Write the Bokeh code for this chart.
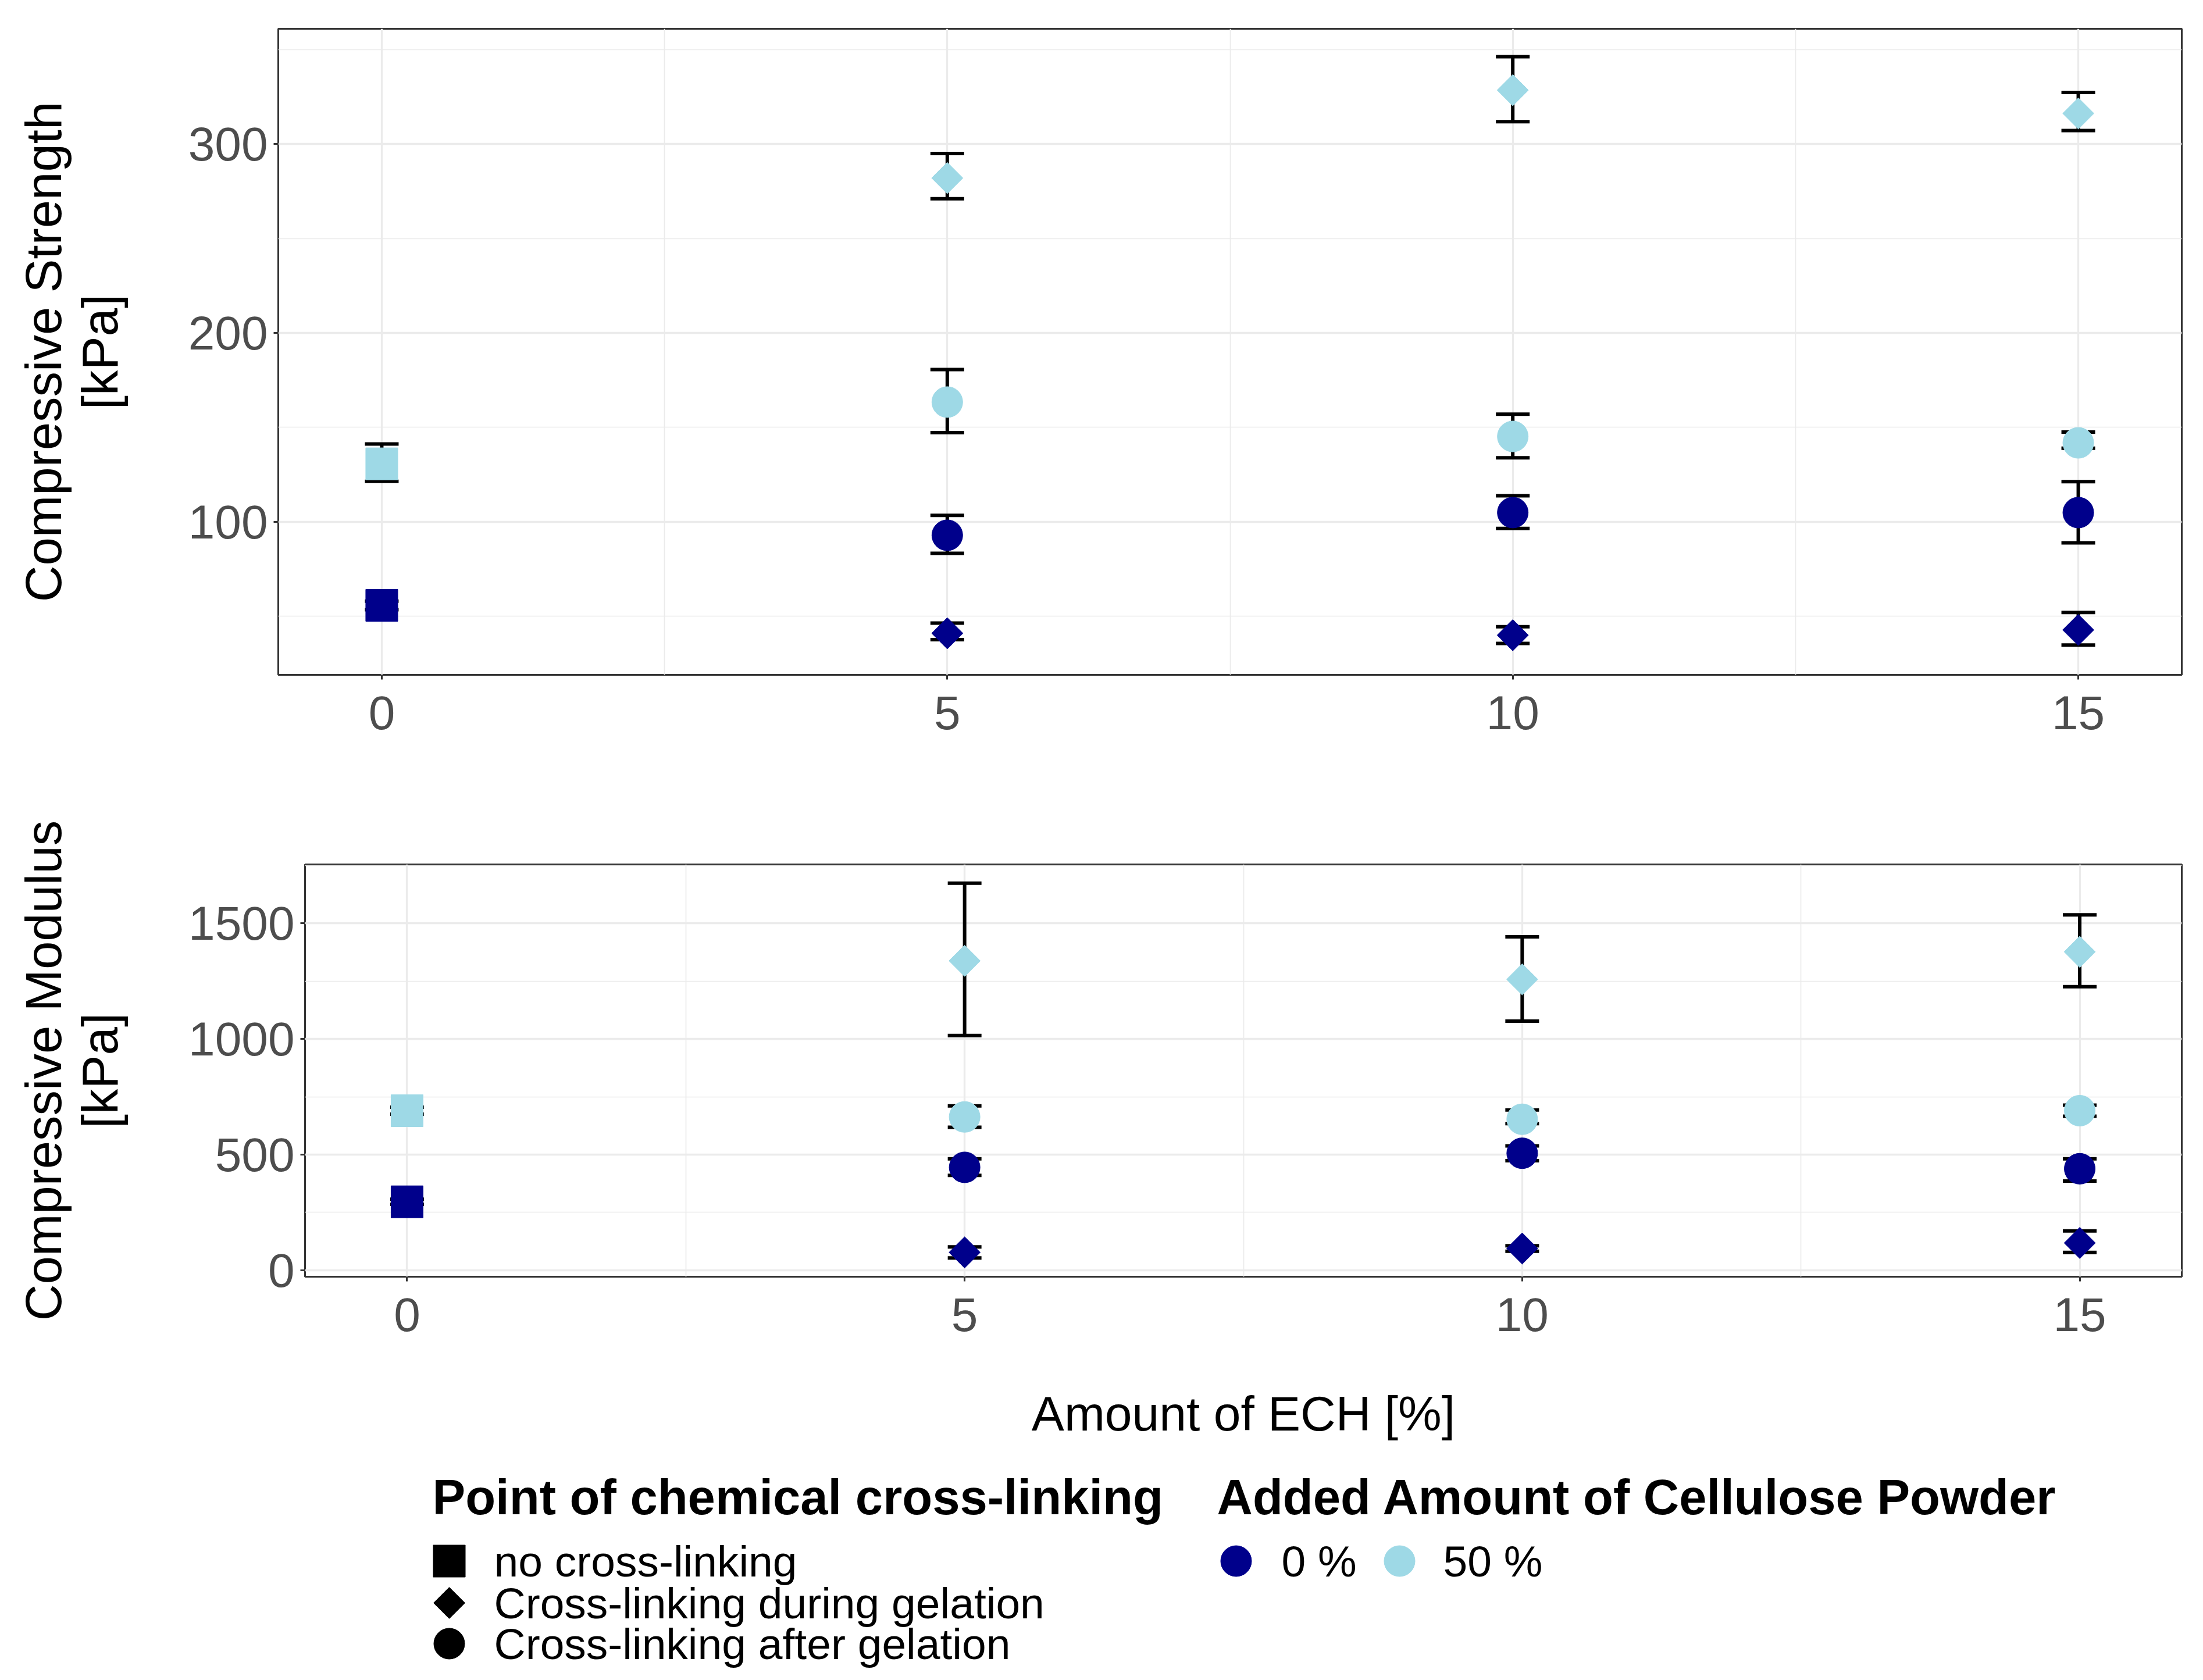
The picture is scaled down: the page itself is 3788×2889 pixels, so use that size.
import numpy as np
from bokeh.plotting import figure
from bokeh.models import Range1d, FixedTicker
from bokeh.core.properties import value
from bokeh.embed import file_html
from bokeh.resources import INLINE

FONT = "Liberation Sans"
NAVY = "#00008B"
LIGHT = "#9ED9E6"

# ---------------- data ----------------
ech_ticks = [0, 5, 10, 15]
ech_none = [0]
ech_xl = [5, 10, 15]

# Compressive strength [kPa]
cs_none_0 = [55.8];  cs_none_0_lo = [53.5];  cs_none_0_hi = [58.0]
cs_none_50 = [130.7]; cs_none_50_lo = [121.4]; cs_none_50_hi = [141.2]
cs_during_0 = [41.0, 40.0, 42.8]
cs_during_0_lo = [37.6, 35.6, 34.8]
cs_during_0_hi = [46.4, 44.5, 52.0]
cs_during_50 = [282.0, 328.5, 316.2]
cs_during_50_lo = [271.0, 311.8, 307.1]
cs_during_50_hi = [295.0, 346.2, 327.3]
cs_after_0 = [92.9, 104.9, 104.9]
cs_after_0_lo = [83.3, 96.5, 88.9]
cs_after_0_hi = [103.4, 113.8, 121.3]
cs_after_50 = [163.4, 145.2, 141.8]
cs_after_50_lo = [147.2, 133.9, 139.0]
cs_after_50_hi = [180.6, 157.0, 147.5]

# Compressive modulus [kPa]
cm_none_0 = [296.0]; cm_none_0_lo = [285.0]; cm_none_0_hi = [307.0]
cm_none_50 = [690.0]; cm_none_50_lo = [675.0]; cm_none_50_hi = [705.0]
cm_during_0 = [77.0, 94.0, 118.0]
cm_during_0_lo = [53.0, 82.0, 77.0]
cm_during_0_hi = [101.0, 106.0, 170.0]
cm_during_50 = [1338.0, 1258.0, 1377.0]
cm_during_50_lo = [1015.0, 1077.0, 1226.0]
cm_during_50_hi = [1674.0, 1442.0, 1537.0]
cm_after_0 = [445.0, 506.0, 439.0]
cm_after_0_lo = [410.0, 474.0, 386.0]
cm_after_0_hi = [482.0, 538.0, 482.0]
cm_after_50 = [663.0, 653.0, 690.0]
cm_after_50_lo = [618.0, 634.0, 666.0]
cm_after_50_hi = [711.0, 693.0, 714.0]

cs_ticks = [100, 200, 300]
cs_minor = [50, 150, 250, 350]
cm_ticks = [0, 500, 1000, 1500]
cm_minor = [250, 750, 1250, 1750]
x_minor = [2.5, 7.5, 12.5]

shape_labels = ["no cross-linking", "Cross-linking during gelation", "Cross-linking after gelation"]
fill_labels = ["0 %", "50 %"]
legend_title_shape = "Point of chemical cross-linking"
legend_title_fill = "Added Amount of Cellulose Powder"
x_title = "Amount of ECH [%]"
y_title_cs = "Compressive Strength\n[kPa]"
y_title_cm = "Compressive Modulus\n[kPa]"

# marker styles: (marker, size, angle)
SHAPES = {
    "none": ("square", 55, 0.0),
    "during": ("square", 38, np.pi / 4),
    "after": ("circle", 53, 0.0),
}

cs_series = [
    (ech_none, cs_none_0, cs_none_0_lo, cs_none_0_hi, "none", NAVY),
    (ech_none, cs_none_50, cs_none_50_lo, cs_none_50_hi, "none", LIGHT),
    (ech_xl, cs_during_0, cs_during_0_lo, cs_during_0_hi, "during", NAVY),
    (ech_xl, cs_during_50, cs_during_50_lo, cs_during_50_hi, "during", LIGHT),
    (ech_xl, cs_after_0, cs_after_0_lo, cs_after_0_hi, "after", NAVY),
    (ech_xl, cs_after_50, cs_after_50_lo, cs_after_50_hi, "after", LIGHT),
]
cm_series = [
    (ech_none, cm_none_0, cm_none_0_lo, cm_none_0_hi, "none", NAVY),
    (ech_none, cm_none_50, cm_none_50_lo, cm_none_50_hi, "none", LIGHT),
    (ech_xl, cm_during_0, cm_during_0_lo, cm_during_0_hi, "during", NAVY),
    (ech_xl, cm_during_50, cm_during_50_lo, cm_during_50_hi, "during", LIGHT),
    (ech_xl, cm_after_0, cm_after_0_lo, cm_after_0_hi, "after", NAVY),
    (ech_xl, cm_after_50, cm_after_50_lo, cm_after_50_hi, "after", LIGHT),
]

W = 3780


def make_panel(series, yr, yticks, yminor, ylabel, height, mb_left, mb_top, mb_bottom, xlabel=None):
    p = figure(width=W, height=height, x_range=Range1d(-0.915, 15.915), y_range=Range1d(*yr),
               toolbar_location=None, output_backend="svg",
               min_border_left=mb_left, min_border_right=29,
               min_border_top=mb_top, min_border_bottom=mb_bottom)
    p.background_fill_color = "white"
    p.border_fill_color = "white"
    p.outline_line_color = "#333333"
    p.outline_line_width = 3
    p.xaxis.ticker = FixedTicker(ticks=ech_ticks, minor_ticks=x_minor)
    p.yaxis.ticker = FixedTicker(ticks=yticks, minor_ticks=yminor)
    for g in (p.xgrid, p.ygrid):
        g.grid_line_color = "#EBEBEB"
        g.grid_line_width = 3.3
        g.minor_grid_line_color = "#EBEBEB"
        g.minor_grid_line_width = 1.7
    for ax in (p.xaxis, p.yaxis):
        ax.axis_line_color = None
        ax.major_tick_line_color = "#333333"
        ax.major_tick_line_width = 3
        ax.major_tick_out = 8
        ax.major_tick_in = 0
        ax.minor_tick_line_color = None
        ax.major_label_text_font = FONT
        ax.major_label_text_font_size = "82px"
        ax.major_label_text_color = "#4D4D4D"
        ax.axis_label_text_font = FONT
        ax.axis_label_text_font_style = "normal"
        ax.axis_label_text_color = "black"
    p.xaxis.major_label_standoff = 28
    p.yaxis.major_label_standoff = 10
    p.yaxis.axis_label = ylabel
    p.yaxis.axis_label_text_font_size = "87px"
    p.yaxis.axis_label_text_line_height = 1.0
    p.yaxis.axis_label_standoff = 101
    p.yaxis.axis_label_text_align = "center"
    if xlabel:
        p.xaxis.axis_label = xlabel
        p.xaxis.axis_label_text_font_size = "84px"
        p.xaxis.axis_label_standoff = 92

    for x, y, lo, hi, shp, col in series:
        p.segment(x0=x, y0=lo, x1=x, y1=hi, line_color="black", line_width=6)
        p.scatter(x=x, y=lo, marker="dash", size=58, line_color="black", line_width=6)
        p.scatter(x=x, y=hi, marker="dash", size=58, line_color="black", line_width=6)
    for x, y, lo, hi, shp, col in series:
        mk, sz, ang = SHAPES[shp]
        p.scatter(x=x, y=y, marker=mk, size=sz, angle=ang, fill_color=col, line_color=col, line_width=1)
    return p


p1 = make_panel(cs_series, (19, 361), cs_ticks, cs_minor, y_title_cs,
                height=1330, mb_left=478, mb_top=49, mb_bottom=170)
p2 = make_panel(cm_series, (-28, 1755), cm_ticks, cm_minor, y_title_cm,
                height=1180, mb_left=524, mb_top=156, mb_bottom=315, xlabel=x_title)

# ---------------- legend panel ----------------
LH = 375
p3 = figure(width=W, height=LH, x_range=Range1d(0, W), y_range=Range1d(LH, 0),
            toolbar_location=None, output_backend="svg", min_border=0,
            x_axis_type=None, y_axis_type=None)
p3.outline_line_color = None
p3.background_fill_color = "white"
p3.border_fill_color = "white"

p3.text(x=[743], y=[64], text=[legend_title_shape], text_font=value(FONT), text_font_size="85px",
        text_font_style="bold", text_baseline="middle", text_align="left", text_color="black")
p3.text(x=[2092], y=[64], text=[legend_title_fill], text_font=value(FONT), text_font_size="85px",
        text_font_style="bold", text_baseline="middle", text_align="left", text_color="black")

item_y = [174, 246, 316]
for (key, yy, lab) in zip(["none", "during", "after"], item_y, shape_labels):
    mk, sz, ang = SHAPES[key]
    p3.scatter(x=[772], y=[yy], marker=mk, size=sz, angle=ang, fill_color="black", line_color="black")
    p3.text(x=[849], y=[yy], text=[lab], text_font=value(FONT), text_font_size="75px",
            text_baseline="middle", text_align="left", text_color="black")

for (mx, tx, col, lab) in zip([2125, 2406], [2203, 2481], [NAVY, LIGHT], fill_labels):
    p3.scatter(x=[mx], y=[174], marker="circle", size=53, fill_color=col, line_color=col)
    p3.text(x=[tx], y=[174], text=[lab], text_font=value(FONT), text_font_size="75px",
            text_baseline="middle", text_align="left", text_color="black")

open("out.html", "w").write(file_html([p1, p2, p3], INLINE))
